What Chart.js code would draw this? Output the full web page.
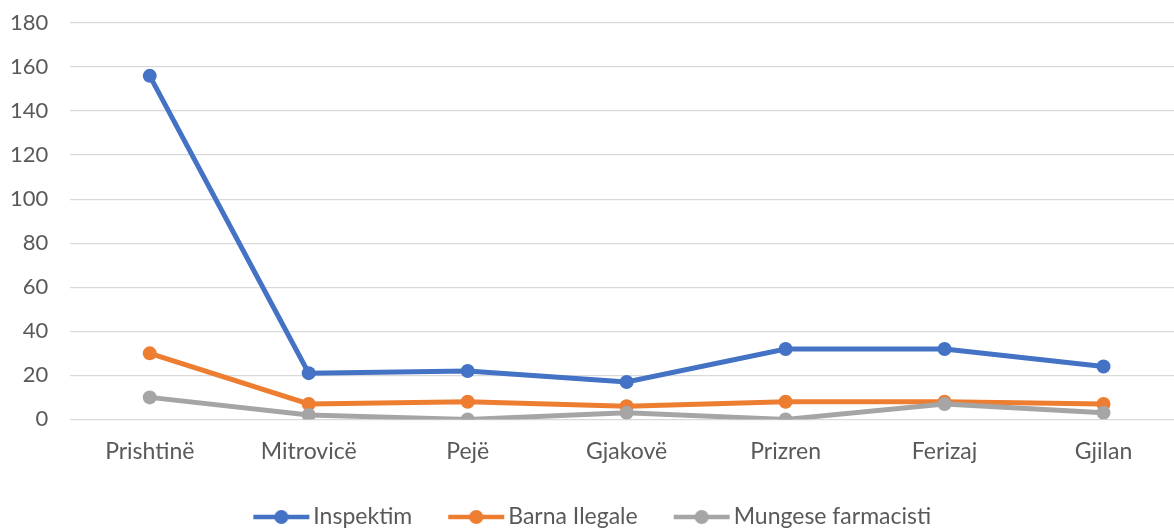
<!DOCTYPE html>
<html>
<head>
<meta charset="utf-8">
<script src="https://cdn.jsdelivr.net/npm/chart.js@4"></script>
<style>
  html, body { margin: 0; padding: 0; background: #fff; overflow: hidden; }
  #wrap { width: 1190px; height: 529px; }
</style>
</head>
<body>
<div id="wrap"><canvas id="chart"></canvas></div>
<script>
const cities = ["Prishtinë", "Mitrovicë", "Pejë", "Gjakovë", "Prizren", "Ferizaj", "Gjilan"];
const inspektim = [156, 21, 22, 17, 32, 32, 24];
const barnaIlegale = [30, 7, 8, 6, 8, 8, 7];
const mungeseFarmacisti = [10, 2, 0, 3, 0, 7, 3];

const blue = "#4472C4";
const orange = "#ED7D31";
const gray = "#A5A5A5";

// legend symbol: line with a dot in the middle
function legendIcon(color) {
  const c = document.createElement("canvas");
  c.width = 60;
  c.height = 16;
  const g = c.getContext("2d");
  g.strokeStyle = color;
  g.lineWidth = 4.5;
  g.beginPath();
  g.moveTo(2, 8);
  g.lineTo(58, 8);
  g.stroke();
  g.fillStyle = color;
  g.beginPath();
  g.arc(30, 8, 7, 0, Math.PI * 2);
  g.fill();
  return c;
}

function series(label, data, color, order) {
  return {
    label, data, order,
    borderColor: color,
    backgroundColor: color,
    borderWidth: 5,
    pointRadius: 7,
    pointHoverRadius: 7,
    pointBackgroundColor: color,
    pointBorderColor: color,
    pointBorderWidth: 0,
    pointStyle: "circle",
    tension: 0,
    icon: legendIcon(color)
  };
}

const font = { family: "Lato", size: 23 };
const yFont = { family: "Lato", size: 22 };
const legendPad = 43.5;

// put the legend row near the bottom edge, like the original
const legendDown = {
  id: "legendDown",
  afterLayout(chart) {
    const l = chart.legend;
    const dy = 517 - (l.top + legendPad + font.size / 2);
    l.top += dy;
    l.bottom = chart.height;
    l.height = l.bottom - l.top;
  }
};

new Chart(document.getElementById("chart"), {
  type: "line",
  data: {
    labels: cities,
    datasets: [
      series("Inspektim", inspektim, blue, 3),
      series("Barna Ilegale", barnaIlegale, orange, 2),
      series("Mungese farmacisti", mungeseFarmacisti, gray, 1)
    ]
  },
  options: {
    responsive: true,
    maintainAspectRatio: false,
    animation: false,
    layout: { padding: { top: 23, left: 6, right: 4, bottom: 3 } },
    scales: {
      x: {
        offset: true,
        grid: { drawOnChartArea: false, color: "transparent", tickColor: "transparent", tickLength: 14, offset: true },
        border: { display: false },
        ticks: { color: "#595959", font, padding: 4, maxRotation: 0 }
      },
      y: {
        min: 0,
        max: 180,
        border: { display: false },
        grid: { color: "#D9D9D9", lineWidth: 1.3, tickColor: "transparent", tickLength: 18 },
        ticks: { stepSize: 20, color: "#595959", font: yFont, padding: 4 }
      }
    },
    plugins: {
      tooltip: { enabled: false },
      legend: {
        position: "bottom",
        maxHeight: 57,
        labels: {
          color: "#595959",
          font,
          padding: legendPad,
          usePointStyle: true,
          pointStyleWidth: 41,
          sort: (a, b) => a.datasetIndex - b.datasetIndex,
          generateLabels: (chart) => chart.data.datasets.map((ds, i) => ({
            text: ds.label,
            datasetIndex: i,
            pointStyle: ds.icon,
            fillStyle: ds.borderColor,
            strokeStyle: ds.borderColor,
            fontColor: "#595959",
            lineWidth: 0,
            hidden: false
          }))
        }
      }
    }
  },
  plugins: [legendDown]
});
</script>
</body>
</html>
